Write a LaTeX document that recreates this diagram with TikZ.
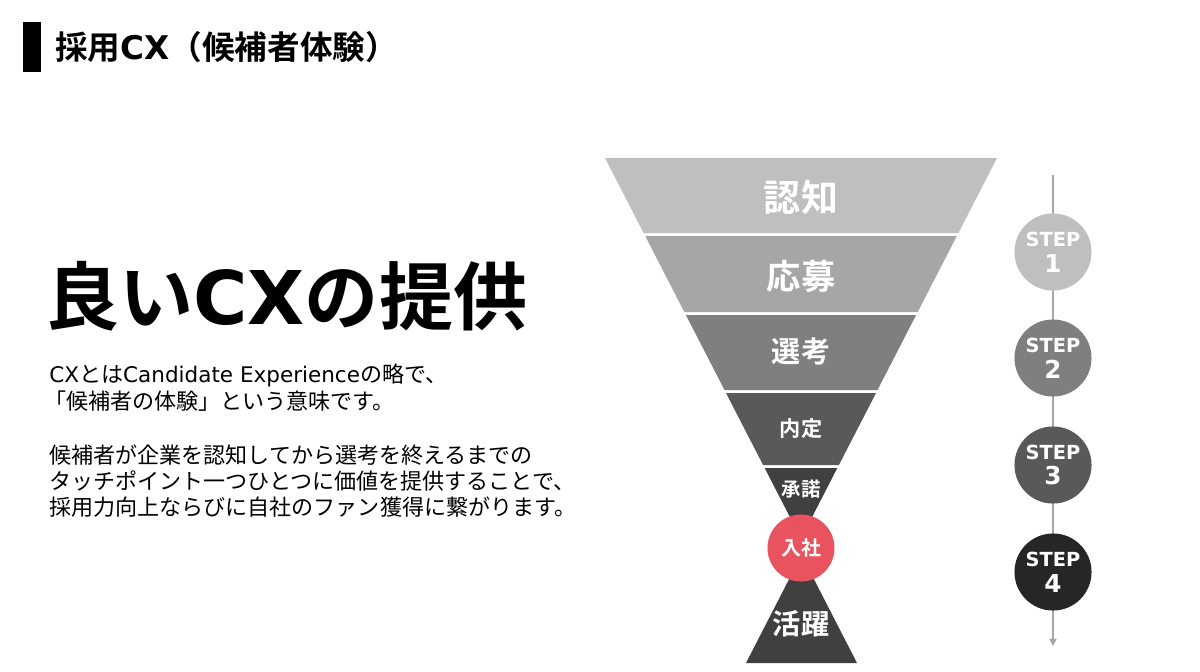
\documentclass[tikz,border=0pt]{standalone}
\usepackage{fontspec}
\setmainfont{Noto Sans CJK JP}[BoldFont={Noto Sans CJK JP Bold}]
\newfontfamily\lat{DejaVu Sans}
\usetikzlibrary{arrows.meta}
\definecolor{fa}{HTML}{BFBFBF}
\definecolor{fb}{HTML}{A6A6A6}
\definecolor{fc}{HTML}{7F7F7F}
\definecolor{fd}{HTML}{595959}
\definecolor{fe}{HTML}{404040}
\definecolor{ff}{HTML}{404040}
\definecolor{redc}{HTML}{E9535F}
\definecolor{sa}{HTML}{BFBFBF}
\definecolor{sb}{HTML}{7F7F7F}
\definecolor{sc}{HTML}{595959}
\definecolor{sd}{HTML}{262626}
\definecolor{linec}{HTML}{A6A6A6}
\tikzset{
  flabel/.style={text=white, font=\bfseries, inner sep=0pt},
  stepnode/.style={circle, minimum size=43.7pt, inner sep=0pt, text=white, align=center,
    font=\lat\bfseries\fontsize{14}{14.7}\selectfont},
  bodyline/.style={anchor=west, inner sep=0pt, font=\fontsize{12.5}{15}\selectfont},
}
\newcommand{\stp}[1]{{\fontsize{11}{14.7}\selectfont STEP}\\#1}
\begin{document}
\begin{tikzpicture}[x=0.567pt,y=-0.567pt]
\useasboundingbox (0,0) rectangle (1200,671);
\fill[white] (0,0) rectangle (1200,671);
% title
\fill[black] (23,22) rectangle (41,72);
\node[anchor=west, inner sep=0pt, font=\bfseries\fontsize{18.5}{20}\selectfont] (title) at (55,47) {採用{\lat CX}（候補者体験）};
% heading
\node[anchor=west, inner sep=0pt, font=\bfseries\fontsize{42}{46}\selectfont] (head) at (45,296) {良い{\lat CX}の提供};
% body
\node[bodyline] (b1) at (49,375) {{\lat\fontsize{12.2}{15}\selectfont CX}とは{\lat\fontsize{12.2}{15}\selectfont Candidate Experience}の略で、};
\node[bodyline] (b2) at (44,401) {「候補者の体験」という意味です。};
\node[bodyline] (b3) at (49,455) {候補者が企業を認知してから選考を終えるまでの};
\node[bodyline] (b4) at (49,481) {タッチポイント一つひとつに価値を提供することで、};
\node[bodyline] (b5) at (49,507) {採用力向上ならびに自社のファン獲得に繋がります。};
% funnel
\fill[fa] (605,158) -- (997,158) -- (958.4,233) -- (643.6,233) -- cycle;
\fill[fb] (645.2,236) -- (956.8,236) -- (917.7,312) -- (684.3,312) -- cycle;
\fill[fc] (685.9,315) -- (916.1,315) -- (877.5,390) -- (724.5,390) -- cycle;
\fill[fd] (726.0,393) -- (876.0,393) -- (838.9,465) -- (763.1,465) -- cycle;
\fill[fe] (764.7,468) -- (837.3,468) -- (801,538.6) -- cycle;
\fill[ff] (746,663) -- (857,663) -- (801.5,555) -- cycle;
\node[flabel, font=\bfseries\fontsize{21}{24}\selectfont] (s1) at (801,197) {認知};
\node[flabel, font=\bfseries\fontsize{19.5}{22}\selectfont] (s2) at (801,276) {応募};
\node[flabel, font=\bfseries\fontsize{16.5}{19}\selectfont] (s3) at (801,351) {選考};
\node[flabel, font=\bfseries\fontsize{12}{14}\selectfont] (s4) at (801,429) {内定};
\node[flabel, font=\bfseries\fontsize{11}{13}\selectfont] (s5) at (801,489) {承諾};
\node[circle, fill=redc, minimum size=38pt, inner sep=0pt, text=white, font=\bfseries\fontsize{11.3}{13}\selectfont] (s6) at (801,548) {入社};
\node[flabel, font=\bfseries\fontsize{16}{18}\selectfont] (s7) at (801,624) {活躍};
% timeline
\coordinate (ltop) at (1053,175);
\coordinate (lbot) at (1053,646);
\draw[linec, line width=0.9pt, -{Triangle[length=4pt,width=4pt]}] (ltop) -- (lbot);
\node[stepnode, fill=sa] (st1) at (1053,252) {\stp{1}};
\node[stepnode, fill=sb] (st2) at (1053,358) {\stp{2}};
\node[stepnode, fill=sc] (st3) at (1053,465) {\stp{3}};
\node[stepnode, fill=sd] (st4) at (1053,572) {\stp{4}};
\end{tikzpicture}
\end{document}
